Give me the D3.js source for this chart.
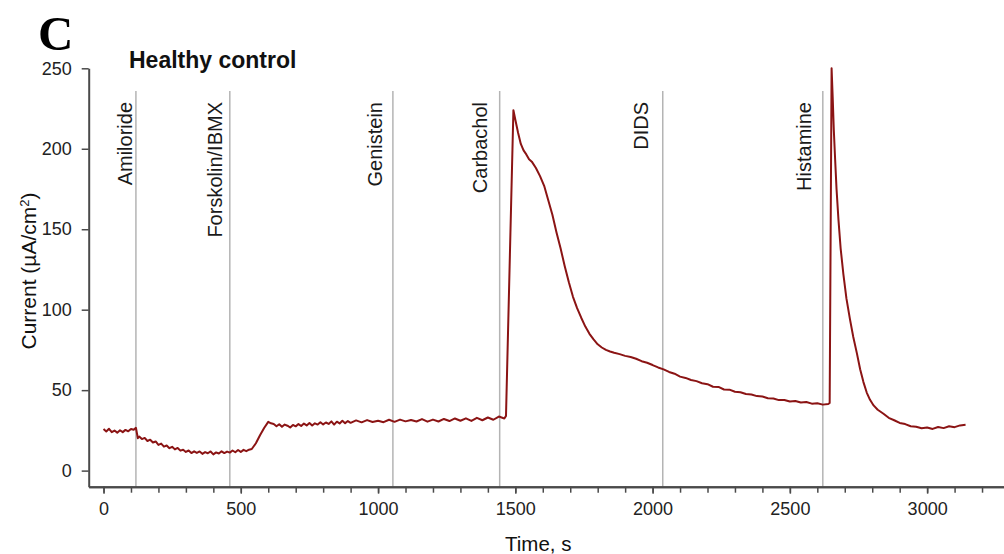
<!DOCTYPE html>
<html>
<head>
<meta charset="utf-8">
<script src="https://cdn.jsdelivr.net/npm/d3@7"></script>
<style>
  body { margin: 0; background: #fff; }
  svg { display: block; font-family: "Liberation Sans", Arial, sans-serif; }
</style>
</head>
<body>
<script>
// canvas size
var w = 1004;
var h = 554;

// drug additions (time in s)
var eventNames = ["Amiloride", "Forskolin/IBMX", "Genistein", "Carbachol", "DIDS", "Histamine"];
var eventTimes = [118, 460, 1054, 1443, 2037, 2620];

// trace: time (s) and current (uA/cm2)
var traceTime = [
  0, 10, 20, 30, 40, 50, 60, 70, 80, 90, 100, 110, 118,
  125, 130, 140, 150, 160, 170, 180, 190, 200, 210, 220, 230, 240, 250, 260, 270, 280,
  290, 300, 310, 320, 330, 340, 350, 360, 370, 380, 390, 400, 410, 420, 430, 440,
  450, 460, 470, 480, 490, 500, 510, 520, 530, 540, 555, 570, 585, 600,
  610, 620, 630, 640, 650, 660, 670, 680, 690, 700, 710, 720, 730, 740, 750, 760,
  770, 780, 790, 800, 810, 820, 830, 840, 850, 860, 870, 880, 890, 900,
  920, 940, 960, 980, 1000, 1020, 1040, 1060, 1080, 1100, 1120, 1140, 1160, 1180,
  1200, 1220, 1240, 1260, 1280, 1300, 1320, 1340, 1360, 1380, 1400, 1420, 1440, 1460,
  1466, 1493, 1500, 1510, 1520, 1530, 1540, 1550, 1560, 1575, 1590, 1605, 1620, 1635,
  1650, 1665, 1680, 1695, 1710, 1725, 1740, 1755, 1770, 1785, 1800, 1815, 1830, 1845,
  1860, 1880, 1900, 1920, 1940, 1960, 1980, 2000, 2020,
  2040, 2060, 2080, 2100, 2120, 2140, 2160, 2180, 2200, 2220, 2240, 2260, 2280, 2300,
  2320, 2340, 2360, 2380, 2400, 2420, 2440, 2460, 2480, 2500, 2520, 2540, 2560, 2580,
  2600, 2620, 2640, 2645, 2652, 2656, 2660, 2665, 2670, 2677, 2685, 2695, 2706, 2719,
  2731, 2744, 2756, 2768, 2780, 2792, 2805, 2820, 2841, 2860, 2880, 2900, 2920, 2940,
  2960, 2980, 3000, 3020, 3040, 3060, 3080, 3100, 3120, 3140
];
var traceValue = [
  25.8, 24.3, 26.0, 23.9, 24.9, 23.6, 25.1, 23.9, 25.3, 24.4, 25.9, 25.4, 26.6,
  20.1, 21.2, 19.6, 20.3, 18.4, 19.2, 17.5, 18.1, 16.0, 16.8, 14.9, 15.6, 13.9, 14.8, 13.2, 14.1, 12.4,
  13.0, 11.6, 12.5, 10.9, 12.0, 11.0, 11.9, 10.4, 11.5, 10.8, 11.9, 10.1, 11.3, 10.6, 12.0, 10.9,
  11.8, 11.2, 12.5, 11.4, 12.8, 11.6, 12.9, 12.1, 13.0, 13.4, 17.0, 22.0, 26.5, 30.3,
  29.4, 29.0, 27.6, 28.8, 27.2, 28.6, 27.9, 26.8, 28.4, 27.5, 28.9, 27.7, 29.2, 28.1, 29.6, 28.0,
  29.4, 28.6, 30.1, 28.7, 29.9, 29.0, 30.6, 28.6, 30.4, 29.3, 31.0, 29.5, 30.8, 29.7,
  31.2, 30.0, 31.4, 30.2, 31.0, 30.1, 31.6, 30.3, 31.7, 30.6, 31.5, 30.5, 32.0, 30.4,
  31.7, 30.5, 32.1, 30.8, 32.4, 31.0, 32.5, 30.9, 32.8, 31.3, 33.0, 31.6, 33.6, 32.4,
  34.0, 224, 218, 210, 203, 199, 196.5, 193.5, 192, 188, 183, 177, 168, 159,
  148, 138, 127, 117, 108, 101, 95, 89.5, 85, 81.5, 78.5, 76.5, 75, 74.0,
  73.2, 72.4, 71.3, 70.6, 69.5, 68.0, 67.0, 65.6, 64.1,
  62.9, 61.3, 60.2, 58.4, 57.6, 56.3, 55.6, 54.3, 53.7, 52.1, 52.0, 50.4, 50.3, 49.0,
  48.7, 47.6, 47.3, 46.3, 46.0, 45.0, 44.8, 43.8, 43.9, 42.9, 43.2, 42.3, 42.6, 41.6,
  41.8, 41.0, 41.4, 42.0, 250, 232, 212, 193, 175, 156, 138, 122, 107, 94,
  83, 73, 63, 55, 48.5, 44, 40.5, 37.8, 35.3, 32.8, 31.3, 29.6, 28.9, 27.6,
  27.2, 26.3, 26.8, 25.9, 27.1, 26.4, 27.6, 27.0, 28.1, 28.5
];

// axis ticks
var xMajorTicks = [0, 500, 1000, 1500, 2000, 2500, 3000];
var xMinorTicks = d3.range(0, 3201, 100);
var yTicks = [0, 50, 100, 150, 200, 250];

// horizontal nudge of each rotated label from its line
var labelDx = [-4, -8, -11, -13, -15, -12];

var data = traceTime.map(function (t, i) {
  return { t: t, v: traceValue[i] };
});

var svg = d3.select("body").append("svg").attr("width", w).attr("height", h);

var xScale = d3.scaleLinear().domain([-54, 3280]).range([88.7, 1004]);
var yScale = d3.scaleLinear().domain([-10, 250]).range([486.7, 68.3]);

// vertical event lines
svg
  .selectAll(".event")
  .data(eventTimes)
  .enter()
  .append("line")
  .attr("class", "event")
  .attr("x1", function (d) { return xScale(d); })
  .attr("x2", function (d) { return xScale(d); })
  .attr("y1", 91)
  .attr("y2", yScale(-10))
  .attr("stroke", "#b4b4b4")
  .attr("stroke-width", 1.5);

// event labels, rotated
svg
  .selectAll(".elabel")
  .data(eventNames)
  .enter()
  .append("text")
  .attr("class", "elabel")
  .attr("transform", function (d, i) {
    return "translate(" + (xScale(eventTimes[i]) + labelDx[i]) + ",102) rotate(-90)";
  })
  .attr("text-anchor", "end")
  .attr("font-size", "20px")
  .attr("fill", "#1a1a1a")
  .text(function (d) { return d; });

// trace
var line = d3
  .line()
  .x(function (d) { return xScale(d.t); })
  .y(function (d) { return yScale(d.v); });

svg
  .append("path")
  .datum(data)
  .attr("d", line)
  .attr("fill", "none")
  .attr("stroke", "#8b1414")
  .attr("stroke-width", 2)
  .attr("stroke-linejoin", "round");

// x axis: minor ticks every 100, labelled every 500
var xMinor = d3.axisBottom(xScale).tickValues(xMinorTicks).tickSize(6).tickSizeOuter(0).tickFormat("");
var xMajor = d3
  .axisBottom(xScale)
  .tickValues(xMajorTicks)
  .tickSize(7)
  .tickSizeOuter(0)
  .tickPadding(9)
  .tickFormat(d3.format("d"));

var gxMinor = svg.append("g").attr("transform", "translate(0," + yScale(-10) + ")").call(xMinor);
var gx = svg.append("g").attr("transform", "translate(0," + yScale(-10) + ")").call(xMajor);

// y axis
var yAxis = d3.axisLeft(yScale).tickValues(yTicks).tickSize(7).tickSizeOuter(0).tickPadding(10);
var gy = svg.append("g").attr("transform", "translate(88.7,0)").call(yAxis);

[gxMinor, gx, gy].forEach(function (g) {
  g.select(".domain").attr("stroke", "#4a4a4a").attr("stroke-width", 2);
  g.selectAll(".tick line").attr("stroke", "#4a4a4a").attr("stroke-width", 1.5);
  g.selectAll(".tick text")
    .attr("font-family", "Liberation Sans, Arial, sans-serif")
    .attr("font-size", "18px")
    .attr("fill", "#222");
});

// axis titles
svg
  .append("text")
  .attr("x", 505)
  .attr("y", 551)
  .attr("font-size", "20.5px")
  .attr("fill", "#111")
  .text("Time, s");

var yTitle = svg
  .append("text")
  .attr("transform", "translate(36,271) rotate(-90)")
  .attr("text-anchor", "middle")
  .attr("font-size", "21px")
  .attr("fill", "#111");
yTitle.append("tspan").text("Current (\u00b5A/cm");
yTitle.append("tspan").attr("font-size", "13px").attr("baseline-shift", "super").text("2");
yTitle.append("tspan").text(")");

// panel title
svg
  .append("text")
  .attr("x", 129)
  .attr("y", 68)
  .attr("font-size", "23px")
  .attr("font-weight", "bold")
  .attr("fill", "#111")
  .text("Healthy control");

// panel letter
svg
  .append("text")
  .attr("x", 38)
  .attr("y", 50)
  .attr("font-family", "Liberation Serif, Times New Roman, serif")
  .attr("font-size", "49px")
  .attr("font-weight", "bold")
  .attr("fill", "#000")
  .text("C");
</script>
</body>
</html>
